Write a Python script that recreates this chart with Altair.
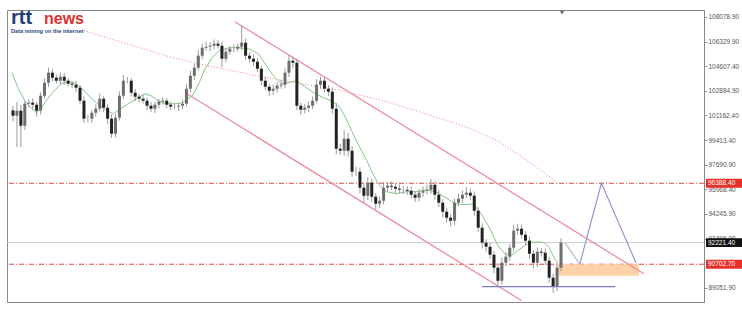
import altair as alt
import pandas as pd

# ---------------- data ----------------
first_open = 101500
closes = [
    101129, 101480, 100427, 101971, 102042, 101901, 101480, 102533, 103446, 104148,
    103797, 103586, 103867, 103586, 103375, 103305, 103095, 102182, 100918, 100918,
    101340, 101620, 102322, 101691, 100918, 99865, 100989, 102533, 103586, 103586,
    102744, 102463, 102322, 102182, 101831, 101620, 101901, 102112, 102182, 101901,
    101761, 101761, 101831, 101971, 103024, 103937, 104499, 105341, 105903, 105973,
    106043, 106183, 106043, 105130, 105622, 105832, 105832, 105973, 106254, 105341,
    105130, 104920, 104428, 103586, 103165, 102884, 103024, 103235, 103305, 104148,
    104990, 104850, 101831, 101550, 101691, 101831, 102182, 103305, 103586, 103024,
    102814, 101620, 98812, 98672, 99514, 98672, 97198, 97198, 96075, 95513,
    96426, 95443, 94951, 95162, 96075, 96215, 96145, 96004, 95934, 95934,
    95864, 95583, 95373, 95724, 95864, 95934, 96285, 95583, 95022, 94390,
    93969, 93758, 95022, 95302, 95583, 95724, 95513, 94460, 93267, 92214,
    91933, 91371, 90459, 89546, 90810, 91231, 91863, 93056, 93196, 92775,
    92354, 91441, 90810, 91582, 91512, 90950, 89757, 89125, 90459, 92221,
]
up_wick = [
    300, 600, 400, 200, 250, 300, 200, 250, 300, 350, 250, 200, 300, 250, 200, 200, 250, 200, 300, 250,
    200, 300, 350, 200, 250, 300, 250, 300, 400, 250, 200, 250, 200, 300, 200, 250, 200, 200, 250, 200,
    200, 250, 200, 300, 300, 350, 300, 400, 300, 350, 250, 300, 250, 300, 250, 200, 300, 250, 1200, 300,
    250, 300, 250, 200, 250, 200, 300, 250, 350, 300, 400, 300, 250, 200, 250, 300, 300, 400, 300, 250,
    250, 300, 400, 350, 600, 400, 300, 350, 300, 250, 400, 300, 250, 300, 400, 250, 300, 250, 300, 250,
    250, 300, 250, 250, 300, 350, 400, 250, 300, 250, 300, 250, 300, 350, 300, 400, 300, 300, 250, 300,
    250, 300, 250, 300, 350, 300, 250, 400, 350, 300, 250, 300, 250, 300, 250, 300, 250, 300, 350, 300,
]
down_wick = [
    400, 2200, 1500, 300, 250, 300, 400, 250, 200, 300, 250, 200, 250, 300, 200, 250, 300, 250, 300, 250,
    300, 250, 200, 300, 350, 300, 250, 200, 250, 200, 250, 300, 250, 200, 300, 250, 300, 250, 200, 250,
    250, 200, 300, 250, 200, 250, 300, 200, 250, 200, 300, 250, 200, 600, 250, 200, 250, 200, 250, 300,
    250, 300, 250, 300, 250, 350, 300, 250, 200, 250, 300, 400, 300, 350, 250, 300, 250, 200, 300, 250,
    300, 350, 400, 300, 350, 400, 350, 300, 400, 500, 300, 350, 400, 300, 250, 300, 250, 300, 250, 300,
    300, 250, 300, 250, 300, 250, 300, 350, 300, 400, 350, 400, 300, 250, 300, 250, 300, 350, 300, 400,
    350, 300, 400, 420, 300, 250, 300, 250, 300, 250, 300, 350, 400, 300, 250, 300, 350, 420, 300, 250,
]

# fast moving average (green)
ma_t = [-0.25, 1.25, 3, 4.75, 6, 7.25, 8.75, 10.5, 12.25, 13.75, 15.5, 17.25, 18.75, 20.5, 22.25,
        23.75, 25.5, 27.25, 29.25, 31.25, 33.5, 35, 36.75, 38.75, 41.25, 43, 45.5, 47.25, 48.75,
        50.5, 52.25, 54.75, 57.25, 59.75, 62.25, 64.25, 66, 68, 69.75, 71.75, 73.75, 76.25, 78.75,
        81.25, 83, 84.75, 86.25, 88, 89.75, 91.25, 93, 94.75, 97.25, 99.75, 102.25, 104.75, 107.25,
        109.75, 112.25, 114.75, 116.75, 118.75, 121, 123, 124.75, 126.25, 128, 129.75, 131.25, 133,
        134.75, 136, 137.25, 138.25]
ma_p = [104148, 103095, 102182, 101620, 101340, 101691, 102322, 102884, 103375, 103516, 103446,
        103095, 102673, 102182, 101831, 101480, 101269, 101620, 101971, 102322, 102673, 102533,
        102182, 101971, 101971, 102042, 102533, 103446, 104428, 105201, 105692, 105903, 105903,
        105832, 105481, 104639, 103937, 103375, 103446, 103586, 103235, 102744, 102393, 102112,
        101691, 100778, 99865, 98883, 97970, 97057, 96215, 95794, 95653, 95794, 95794, 95934,
        95794, 95373, 94951, 94881, 94951, 94249, 93196, 92003, 91441, 91301, 91652, 92003,
        92214, 92284, 92214, 91863, 91161, 90810]

# slow moving average (red dotted)
slow_t = [18, 28, 40.5, 50.5, 60.5, 73, 82.25, 93, 103, 115.5, 123, 130.5, 138.5]
slow_p = [107096, 106254, 105201, 104569, 104007, 103375, 102954, 102252, 101410, 100287,
          99374, 97970, 96355]

# price axis labels
axis_values = [108078.90, 106329.90, 104607.40, 102884.90, 101162.40, 99413.40,
               97690.90, 95968.40, 94245.90, 92496.90, 89051.90]

red_levels = [96388.40, 90702.70]
last_price = 92221.40

channel_name = ["upper", "upper", "lower", "lower"]
channel_t = [56.25, 160, 43.75, 129]
channel_p = [107728, 90037, 102744, 88142]

# projected path: first leg (grey) then the swing (blue)
proj_leg = ["a", "a", "b", "b", "b"]
proj_t = [140, 143.75, 143.75, 149.25, 158]
proj_p = [92221.40, 90702.70, 90702.70, 96388.40, 90810]

zone_t = [138.25, 158.75]
zone_p = [89900, 90702.70]

support_t = [119, 152.75]
support_p = 89125

marker_t = 139.25
marker_p = 108360

tag_prices = [96388.40, 90702.70, 92221.40]
tag_colors = ["#e8302a", "#e8302a", "#111111"]

# ---------------- tables ----------------
opens = [first_open] + closes[:-1]
candles = pd.DataFrame({
    "t": list(range(len(closes))),
    "open": opens,
    "close": closes,
    "high": [max(o, c) + w for o, c, w in zip(opens, closes, up_wick)],
    "low": [min(o, c) - w for o, c, w in zip(opens, closes, down_wick)],
})
candles["dir"] = ["up" if c >= o else "down" for o, c in zip(opens, closes)]

ma_df = pd.DataFrame({"t": ma_t, "p": ma_p})
slow_df = pd.DataFrame({"t": slow_t, "p": slow_p})
chan_df = pd.DataFrame({"name": channel_name, "t": channel_t, "p": channel_p})
proj_df = pd.DataFrame({"leg": proj_leg, "t": proj_t, "p": proj_p})
zone_df = pd.DataFrame({"t": [zone_t[0]], "t2": [zone_t[1]], "p": [zone_p[0]], "p2": [zone_p[1]]})
sup_df = pd.DataFrame({"t": [support_t[0]], "t2": [support_t[1]], "p": [support_p]})
lvl_df = pd.DataFrame({"p": red_levels})
last_df = pd.DataFrame({"p": [last_price]})
mark_df = pd.DataFrame({"t": [marker_t], "p": [marker_p]})
tag_df = pd.DataFrame({"p": tag_prices, "c": tag_colors,
                       "label": [f"{v:.2f}" for v in tag_prices]})
one = pd.DataFrame({"a": [0]})

xs = alt.Scale(domain=[-0.25, 174], nice=False, zero=False)
ys = alt.Scale(domain=[88052, 108550], nice=False, zero=False)
yaxis = alt.Axis(
    orient="right", values=axis_values, format=".2f", title=None, grid=False,
    labelFontSize=6.5, labelColor="#555", labelFont="Liberation Sans",
    tickSize=3, tickColor="#999", domainColor="#888", labelPadding=1,
    labelOverlap=False, labelFlush=False)

X = lambda f="t": alt.X(f"{f}:Q", scale=xs, axis=None)
Y = lambda f="p": alt.Y(f"{f}:Q", scale=ys, axis=yaxis)

zone = alt.Chart(zone_df).mark_rect(color="#fdd2a6").encode(
    x=X(), x2="t2:Q", y=Y(), y2="p2:Q")

levels = alt.Chart(lvl_df).mark_rule(color="#e04848", strokeWidth=1, strokeDash=[5, 2, 1, 2]).encode(
    y=Y())

last_line = alt.Chart(last_df).mark_rule(color="#cfcfcf", strokeWidth=1).encode(y=Y())

slow = alt.Chart(slow_df).mark_line(color="#f07c7c", strokeWidth=1, strokeDash=[1, 2]).encode(
    x=X(), y=Y())

chan = alt.Chart(chan_df).mark_line(color="#ee8c9e", strokeWidth=1.3).encode(
    x=X(), y=Y(), detail="name:N")

ma = alt.Chart(ma_df).mark_line(color="#86c486", strokeWidth=1).encode(x=X(), y=Y())

wicks = alt.Chart(candles).mark_rule(color="#9a9a9a", strokeWidth=1).encode(
    x=X(), y=Y("low"), y2="high:Q")

bodies = alt.Chart(candles).mark_bar(size=3).encode(
    x=X(), y=Y("open"), y2="close:Q",
    color=alt.Color("dir:N", scale=alt.Scale(domain=["up", "down"], range=["#6e6e6e", "#222222"]),
                    legend=None))

proj = alt.Chart(proj_df).mark_line(strokeWidth=1.1).encode(
    x=X(), y=Y(), detail="leg:N",
    color=alt.Color("leg:N", scale=alt.Scale(domain=["a", "b"], range=["#b4b4c4", "#8e8ed2"]),
                    legend=None))

support = alt.Chart(sup_df).mark_rule(color="#7c7cc4", strokeWidth=1.2).encode(
    x=X(), x2="t2:Q", y=Y())

marker = alt.Chart(mark_df).mark_point(shape="triangle-down", filled=True, color="#666",
                                       size=18, opacity=1).encode(x=X(), y=Y())

logo1 = alt.Chart(one).mark_text(text="rtt", font="Liberation Sans", fontSize=20, fontWeight="bold",
                                 color="#1f3f74", align="left", baseline="alphabetic").encode(
    x=alt.value(4), y=alt.value(14))
logo2 = alt.Chart(one).mark_text(text="news", font="Liberation Sans", fontSize=16, fontWeight="bold",
                                 color="#d8322c", align="left", baseline="alphabetic").encode(
    x=alt.value(37), y=alt.value(14))
logo3 = alt.Chart(one).mark_text(text="Data mining on the internet", font="Liberation Sans",
                                 fontSize=5.6, fontWeight="bold", color="#2a4a80",
                                 align="left", baseline="alphabetic").encode(
    x=alt.value(4), y=alt.value(22.5))

tags = alt.Chart(tag_df).transform_calculate(
    top="datum.p + 310", bot="datum.p - 310").mark_rect().encode(
    x=alt.value(699), x2=alt.value(735), y=Y("top"), y2="bot:Q",
    color=alt.Color("c:N", scale=None, legend=None))

tag_text = alt.Chart(tag_df).mark_text(align="left", baseline="middle", fontSize=6.5,
                                       font="Liberation Sans", color="white").encode(
    x=alt.value(701), y=Y(), text="label:N")

chart = alt.layer(
    levels, zone, last_line, slow, chan, ma, wicks, bodies, proj, support, marker,
    logo1, logo2, logo3, tags, tag_text
).properties(
    width=697, height=292,
    padding={"left": 7, "top": 10, "right": 38, "bottom": 11},
    autosize=alt.AutoSizeParams(type="none"),
    background="white",
).resolve_scale(color="independent").configure_view(stroke="#8a8a8a", strokeWidth=1)

chart.save("out.html", embed_options={"renderer": "svg", "actions": False})
